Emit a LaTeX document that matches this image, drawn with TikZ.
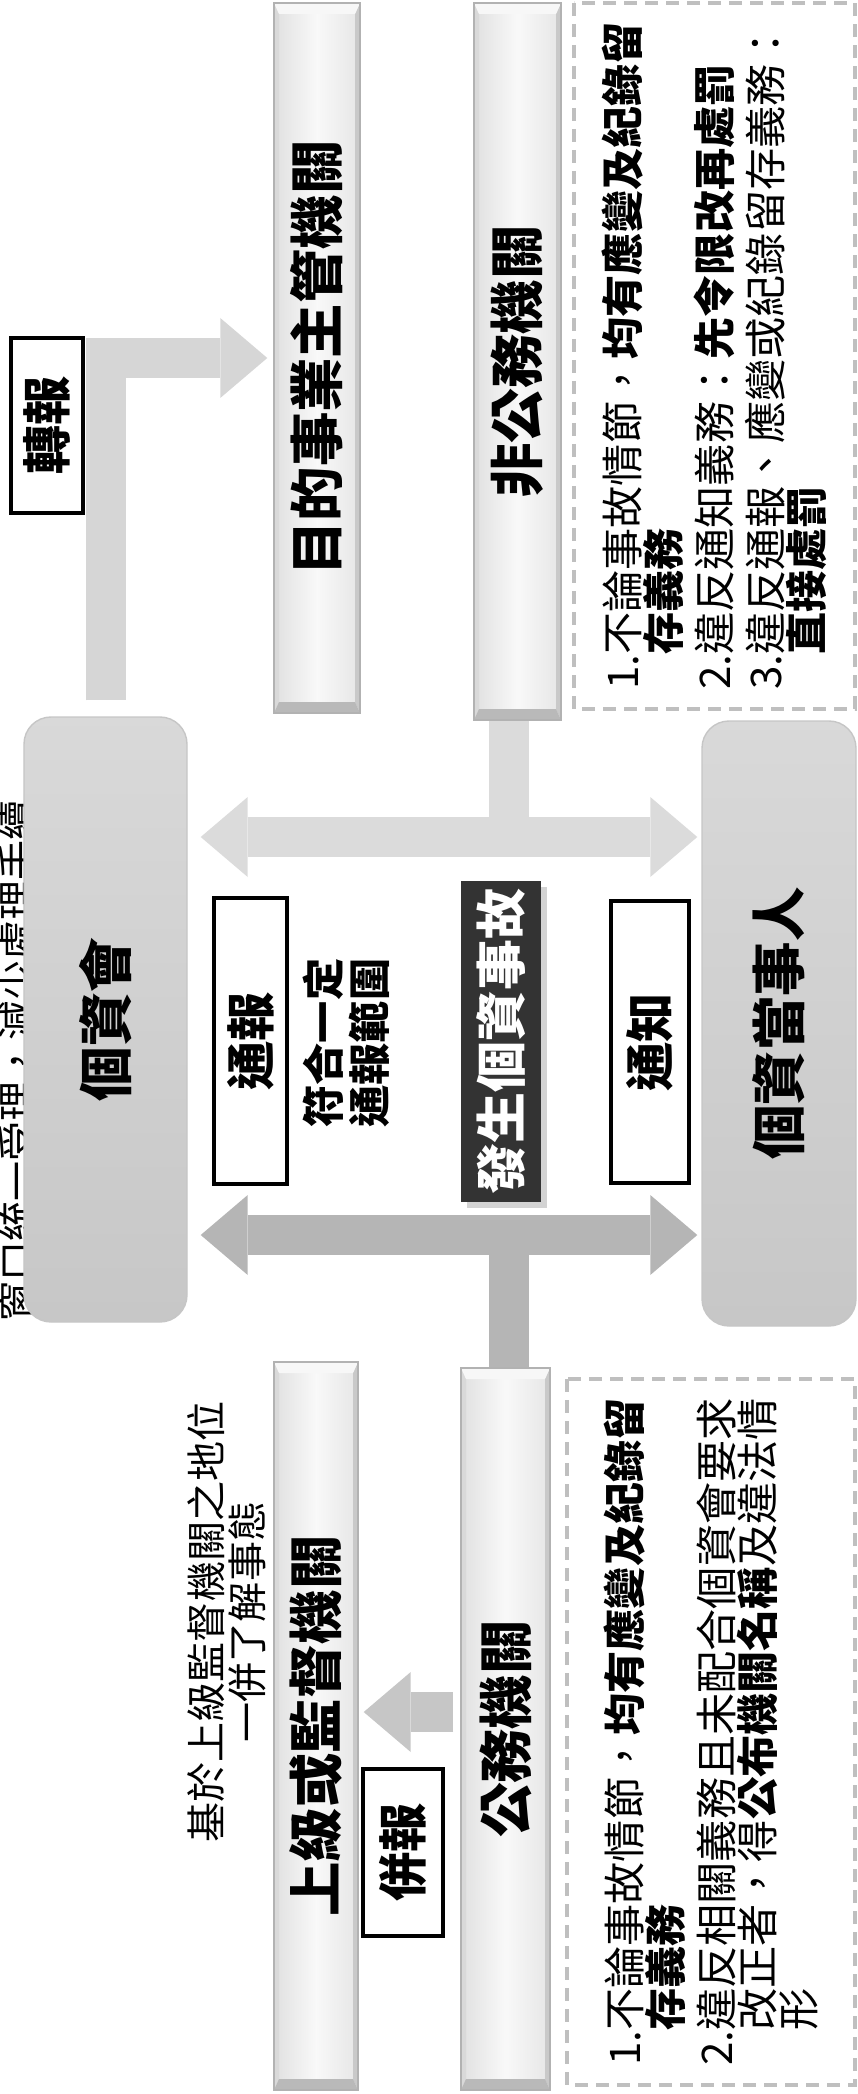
\documentclass[tikz,border=0pt]{standalone}
\usepackage{fontspec}
\setmainfont{Noto Sans CJK TC}
\usepackage{graphicx}
\usetikzlibrary{arrows.meta,shadows}

\newcommand{\vtext}[1]{\rotatebox{90}{#1}}

\begin{document}
\begin{tikzpicture}[x=1mm, y=-1mm,
    orgbox/.style={draw=gray!60, inner sep=0pt,
        left color=gray!24, right color=gray!20, middle color=gray!5,
        font=\bfseries\fontsize{15.5}{16}\selectfont,
        path picture={
            \coordinate (bsw) at (path picture bounding box.south west);
            \coordinate (bse) at (path picture bounding box.south east);
            \coordinate (bnw) at (path picture bounding box.north west);
            \coordinate (bne) at (path picture bounding box.north east);
            \fill[gray!30] (bnw) -- (bsw) -- ++(0.5mm,1.1mm) -- ([shift={(0.5mm,-1.1mm)}]bnw) -- cycle;
            \fill[gray!42] (bne) -- (bse) -- ++(-0.5mm,1.1mm) -- ([shift={(-0.5mm,-1.1mm)}]bne) -- cycle;
            \fill[gray!6] (bnw) -- (bne) -- ++(-0.5mm,-1.1mm) -- ([shift={(0.5mm,-1.1mm)}]bnw) -- cycle;
            \fill[gray!55] (bsw) -- (bse) -- ++(-0.5mm,1.1mm) -- ([shift={(0.5mm,1.1mm)}]bsw) -- cycle;
        }},
    softbox/.style={rounded corners=2.7mm, draw=gray!45, top color=gray!30, bottom color=gray!44,
        inner sep=0pt, font=\bfseries\fontsize{15.5}{16}\selectfont},
    tag/.style={draw, line width=0.9pt, fill=white, inner sep=0pt,
        font=\bfseries\fontsize{14}{14}\selectfont},
    incident/.style={fill=black!80, text=white, inner sep=0pt,
        drop shadow={shadow xshift=0.6mm, shadow yshift=-0.6mm, opacity=0.35},
        font=\bfseries\fontsize{14.5}{15}\selectfont},
    note/.style={draw=gray!50, line width=0.9pt, dash pattern=on 1.3mm off 0.8mm,
        rotate=90, align=left, inner sep=0pt,
        font={\fontsize{12}{11.7}\selectfont\lineskiplimit=-5pt}},
    band/.style={line width=4mm, >={Triangle[length=4.7mm 0 0, width=8mm 0 0, line width=0pt 0 0]}},
]
    \useasboundingbox (0,0) rectangle (85.7,209.4);
    \clip (0,0) rectangle (85.7,209.4);

    % upper row
    \node[orgbox, minimum width=8.6mm, minimum height=71mm] (mudi) at (31.7,35.8) {\vtext{目的事業主管機關}};
    \node[orgbox, minimum width=8.7mm, minimum height=71.7mm] (nonpub) at (51.75,36.15) {\vtext{非公務機關}};
    \node[note, minimum width=70.6mm, minimum height=28.1mm] (topnote) at (71.45,35.6)
        {1.不論事故情節，{\bfseries 均有應變及紀錄留}\\
         \hphantom{1.}{\bfseries 存義務}\\[1mm]
         2.違反通知義務：{\bfseries 先令限改再處罰}\\[1mm]
         3.違反通報、應變或紀錄留存義務：\\
         \hphantom{3.}{\bfseries 直接處罰}};
    \node[tag, minimum width=7.2mm, minimum height=17.5mm] (zhuanbao) at (4.7,42.55) {\vtext{轉報}};

    % middle row
    \node[rotate=90, font=\fontsize{11.4}{12}\selectfont] (cut) at (1.7,106.1) {窗口統一受理，減少處理手續};
    \node[softbox, minimum width=16.3mm, minimum height=60.5mm] (pdpc) at (10.55,101.95) {\vtext{個資會}};
    \node[softbox, minimum width=15.4mm, minimum height=60.5mm] (subj) at (77.9,102.35) {\vtext{個資當事人}};
    \node[tag, minimum width=7.3mm, minimum height=28.6mm] (tongbao) at (25.05,104.1) {\vtext{通報}};
    \node[rotate=90, align=center, font={\bfseries\fontsize{12}{13.2}\selectfont}] (range) at (34.6,104.3)
        {符合一定\\通報範圍};
    \node[incident, minimum width=8mm, minimum height=32.1mm] (incident) at (50.1,104.15) {\vtext{發生個資事故}};
    \node[tag, minimum width=7.8mm, minimum height=28.2mm] (tongzhi) at (65,104.2) {\vtext{通知}};

    % lower row
    \node[rotate=90, align=center, font={\fontsize{11.4}{11.6}\selectfont\lineskiplimit=-5pt}] (reason) at (22.7,162.2)
        {基於上級監督機關之地位\\一併了解事態};
    \node[orgbox, minimum width=8.4mm, minimum height=72.8mm] (sup) at (31.6,172.6) {\vtext{上級或監督機關}};
    \node[orgbox, minimum width=8.9mm, minimum height=72.2mm] (pub) at (50.55,172.9) {\vtext{公務機關}};
    \node[tag, minimum width=8mm, minimum height=16.7mm] (bingbao) at (40.3,185.25) {\vtext{併報}};
    \node[note, minimum width=70.6mm, minimum height=28.8mm] (botnote) at (71.1,173.2)
        {1.不論事故情節，{\bfseries 均有應變及紀錄留}\\
         \hphantom{1.}{\bfseries 存義務}\\[1mm]
         2.違反相關義務且未配合個資會要求\\
         \hphantom{2.}改正者，得{\bfseries 公布機關名稱}及違法情\\
         \hphantom{2.}形};

    % connectors
    \coordinate (upjoin) at (50.9,83.7);
    \coordinate (lowjoin) at (50.9,123.5);
    \coordinate (bingjoin) at (40.5,171.2);
    \draw[band, gray!32, ->, shorten <=1.6mm, shorten >=0.6mm] (pdpc.north) |- (mudi.west);
    \draw[band, gray!28] (nonpub.south -| upjoin) -- (upjoin);
    \draw[band, gray!28, <->, shorten <=1.3mm, shorten >=0.4mm] (pdpc.east |- upjoin) -- (subj.west |- upjoin);
    \draw[band, gray!58] (pub.north -| lowjoin) -- (lowjoin);
    \draw[band, gray!58, <->, shorten <=1.3mm, shorten >=0.4mm] (pdpc.east |- lowjoin) -- (subj.west |- lowjoin);
    \draw[band, gray!45, ->, shorten <=0.7mm, shorten >=0.5mm] (pub.west |- bingjoin) -- (sup.east |- bingjoin);
\end{tikzpicture}
\end{document}
